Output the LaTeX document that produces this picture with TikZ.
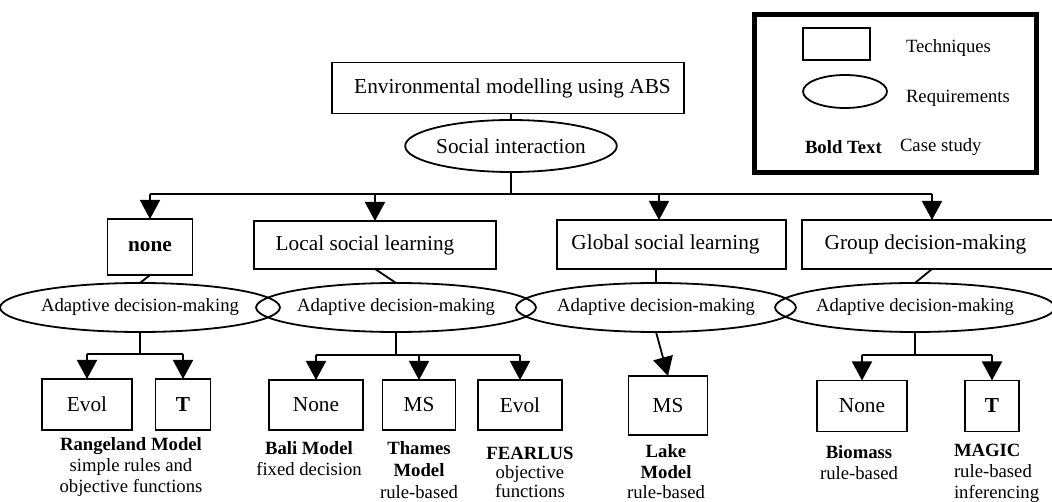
\documentclass[tikz,border=0pt]{standalone}
\usepackage{fontspec}
\setmainfont{Liberation Serif}
\usetikzlibrary{shapes.geometric,arrows.meta}
\begin{document}
\begin{tikzpicture}[x=1pt,y=-1pt,
  every node/.style={inner sep=0pt, outer sep=0pt},
  bigfont/.style={font=\fontsize{21.3}{24}\selectfont},
  smallfont/.style={font=\fontsize{18.7}{21}\selectfont},
  box/.style={draw, line width=1.8pt, rectangle, bigfont},
  req/.style={draw, line width=1.8pt, ellipse, smallfont},
  lab/.style={align=center, anchor=north, smallfont},
  conn/.style={line width=1.8pt},
  arr/.style={line width=1.8pt, -{Triangle[width=20pt,length=19pt]}},
]
\useasboundingbox (0,0) rectangle (1052,502);

% top
\node[box, minimum width=352pt, minimum height=51pt] (top) at (508,88) {\hspace*{9pt}Environmental modelling using ABS};
\node[req, bigfont, minimum width=196pt, minimum height=52pt] (social) at (511,146) {Social interaction};
\draw[conn] (top.south -| social.north) -- (social.north);

% level 2 boxes
\node[box, minimum width=85pt, minimum height=56pt] (none) at (150,247) {\textbf{none}};
\node[box, minimum width=242pt, minimum height=48pt] (local) at (375,245) {\hspace*{-20pt}Local social learning};
\node[box, minimum width=229pt, minimum height=49pt] (global) at (671.5,244.5) {\hspace*{-12pt}Global social learning};
\node[box, minimum width=260pt, minimum height=49pt] (group) at (932,244.5) {\hspace*{-13pt}Group decision-making};

% bus
\coordinate (bus0) at (511,194);
\coordinate (busL) at (150,194);
\coordinate (bus3) at (659,194);
\coordinate (busR) at (932,194);
\draw[conn] (social.south) -- (bus0);
\draw[conn] (busL) -- (busR);
\draw[arr] (busL) -- (none.north);
\draw[arr] (busL -| local.north) -- (local.north);
\draw[arr] (bus3) -- (bus3 |- global.north);
\draw[arr] (busR) -- (group.north);

% ellipses
\node[req, minimum width=257pt, minimum height=49pt] (e1) at (140,307.5) {Adaptive decision-making};
\node[req, minimum width=255pt, minimum height=49pt] (e2) at (396,307.5) {Adaptive decision-making};
\node[req, minimum width=262pt, minimum height=49pt] (e3) at (656,307.5) {Adaptive decision-making};
\node[req, minimum width=258pt, minimum height=49pt] (e4) at (915,307.5) {Adaptive decision-making};

\draw[conn] (none.south) -- (e1.north);
\draw[conn] (local.south) -- (e2.north);
\draw[conn] (e3.north |- global.south) -- (e3.north);
\draw[conn] (group.south) -- (e4.north);

% bottom boxes
\node[box, minimum width=90pt, minimum height=51pt] (evol1) at (87,404.5) {Evol};
\node[box, minimum width=55pt, minimum height=51pt] (t1) at (183,404.5) {\textbf{T}};
\node[box, minimum width=94pt, minimum height=50pt] (none2) at (316,405) {None};
\node[box, minimum width=73pt, minimum height=50pt] (ms2) at (419,405) {MS};
\node[box, minimum width=84pt, minimum height=50pt] (evol2) at (520,405) {Evol};
\node[box, minimum width=79pt, minimum height=59pt] (ms3) at (668,405.5) {MS};
\node[box, minimum width=90pt, minimum height=51pt] (none4) at (862,406) {None};
\node[box, minimum width=54pt, minimum height=51pt] (t4) at (992,406) {\textbf{T}};

% bottom connectors
\coordinate (j1) at (140,354);
\coordinate (j1L) at (87,354);
\coordinate (j1R) at (183,354);
\draw[conn] (e1.south) -- (j1);
\draw[conn] (j1L) -- (j1R);
\draw[arr] (j1L) -- (evol1.north);
\draw[arr] (j1R) -- (t1.north);

\coordinate (j2) at (396,355);
\coordinate (j2L) at (316,355);
\coordinate (j2M) at (419,355);
\coordinate (j2R) at (520,355);
\draw[conn] (e2.south) -- (j2);
\draw[conn] (j2L) -- (j2R);
\draw[arr] (j2L) -- (none2.north);
\draw[arr] (j2M) -- (ms2.north);
\draw[arr] (j2R) -- (evol2.north);

\draw[arr] (e3.south) -- (ms3.north);

\coordinate (j4) at (915,355);
\coordinate (j4L) at (862,355);
\coordinate (j4R) at (992,355);
\draw[conn] (e4.south) -- (j4);
\draw[conn] (j4L) -- (j4R);
\draw[arr] (j4L) -- (none4.north);
\draw[arr] (j4R) -- (t4.north);

% case study labels
\node[lab] (l1) at (131,438) {\textbf{Rangeland Model}\\simple rules and\\objective functions};
\node[lab] (l2) at (309,442) {\textbf{Bali Model}\\fixed decision};
\node[lab, font=\fontsize{18.7}{22}\selectfont] (l3) at (419,442) {\textbf{Thames}\\\textbf{Model}\\rule-based};
\node[lab, font=\fontsize{18.7}{19}\selectfont] (l4) at (530,447) {\textbf{FEARLUS}\\objective\\functions};
\node[lab, font=\fontsize{18.7}{20.5}\selectfont] (l5) at (666,445) {\textbf{Lake}\\\textbf{Model}\\rule-based};
\node[lab] (l6) at (859,446) {\textbf{Biomass}\\rule-based};
\node[lab, align=left, anchor=north west] (l7) at (954,444) {\textbf{MAGIC}\\rule-based\\inferencing};

% legend
\node[draw, line width=5pt, minimum width=282pt, minimum height=158pt] (legend) at (895,94) {};
\node[draw, line width=1.8pt, minimum width=67pt, minimum height=32pt] (lrect) at (836.5,44) {};
\node[draw, ellipse, line width=1.8pt, minimum width=84pt, minimum height=33pt] (lell) at (845,91.5) {};
\node[anchor=west, smallfont] (ltech) at (906,48) {Techniques};
\node[anchor=west, smallfont] (lreq) at (906,98) {Requirements};
\node[anchor=west, smallfont] (lbold) at (805,147) {\textbf{Bold Text}};
\node[anchor=west, smallfont] (lcase) at (900,147) {Case study};
\end{tikzpicture}
\end{document}
